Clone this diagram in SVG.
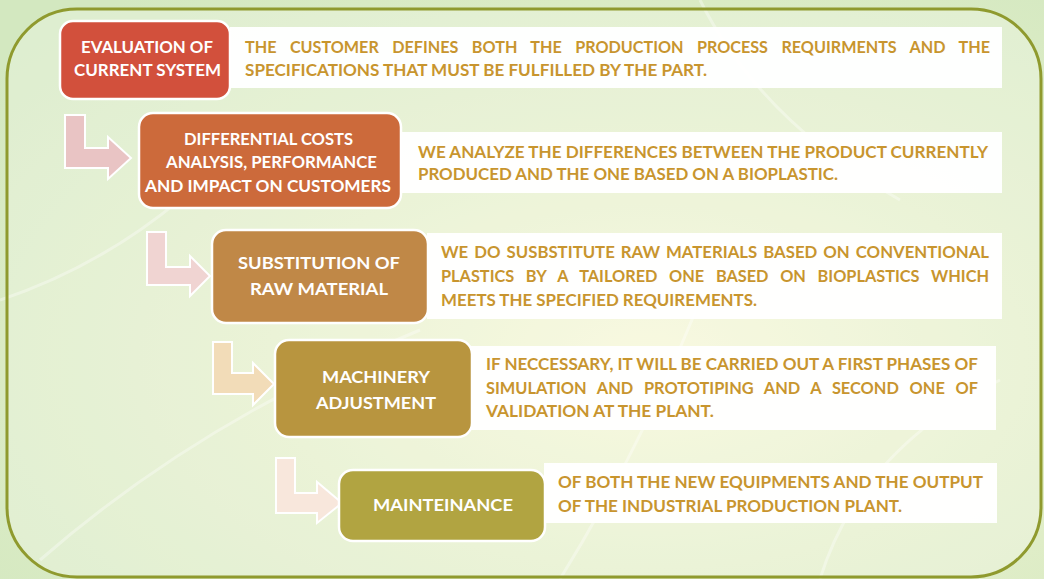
<svg xmlns="http://www.w3.org/2000/svg" width="1044" height="579" viewBox="0 0 1044 579">
<defs>
<radialGradient id="bg" cx="0.62" cy="0.62" r="0.8">
<stop offset="0" stop-color="#f6f7d6"/>
<stop offset="0.45" stop-color="#e4efca"/>
<stop offset="1" stop-color="#d3e8c0"/>
</radialGradient>
<style>
.box{stroke:#ffffff;stroke-width:2.5}
.desc-bg{fill:#ffffff;opacity:0.96}
.arrow{stroke:#ffffff;stroke-width:2;stroke-linejoin:miter}
text{font-family:Lato,"Open Sans","Liberation Sans",sans-serif;font-weight:700;font-size:17px}
.lbl{fill:#ffffff;text-anchor:middle}
.desc{fill:#c8952e}
</style>
</defs>
<rect x="0" y="0" width="1044" height="579" fill="url(#bg)"/>
<g opacity="0.35" fill="none" stroke="#ffffff" stroke-width="3">
<path d="M0 300 Q150 250 260 120"/>
<path d="M40 560 Q200 420 420 330"/>
<path d="M560 579 Q640 450 700 300"/>
<path d="M820 579 Q860 450 1000 380"/>
<path d="M700 0 Q760 120 900 200"/>
</g>
<rect x="7" y="9" width="1034" height="568" rx="70" ry="70" fill="#ffffff" fill-opacity="0.25" stroke="#8f9a2e" stroke-width="3"/>

<g id="connectors">
<polygon class="arrow" fill="#e9c4c4" points="65,115 85,115 85,148 108,148 108,137 131,158 108,179 108,168 65,168"/>
<polygon class="arrow" fill="#f0d4d2" points="147,232 166,232 166,267 190,267 190,256 210,276 190,296 190,285 147,285"/>
<polygon class="arrow" fill="#f2dcb8" points="213,342 232,342 232,373 253,373 253,363 274,384 253,405 253,394 213,394"/>
<polygon class="arrow" fill="#f8e7dc" points="276,458 295,458 295,493 317,493 317,482 342,503 317,523 317,513 276,513"/>
</g>

<g id="node1">
<rect class="desc-bg" x="230" y="27" width="772" height="61"/>
<rect class="box" x="60" y="21" width="170" height="78" rx="13" fill="#d2503c"/>
<text class="lbl" x="147" y="53" textLength="132" lengthAdjust="spacingAndGlyphs">EVALUATION OF</text>
<text class="lbl" x="147.5" y="76" textLength="147" lengthAdjust="spacingAndGlyphs">CURRENT SYSTEM</text>
<text class="desc" x="245" y="53" word-spacing="10" textLength="745" lengthAdjust="spacingAndGlyphs">THE CUSTOMER DEFINES BOTH THE PRODUCTION PROCESS REQUIRMENTS AND THE</text>
<text class="desc" x="245" y="76" textLength="462" lengthAdjust="spacingAndGlyphs">SPECIFICATIONS THAT MUST BE FULFILLED BY THE PART.</text>
</g>

<g id="node2">
<rect class="desc-bg" x="400" y="132" width="602" height="61"/>
<rect class="box" x="139" y="113" width="262" height="95" rx="14" fill="#cc6a3b"/>
<text class="lbl" x="268.5" y="145" textLength="169" lengthAdjust="spacingAndGlyphs">DIFFERENTIAL COSTS</text>
<text class="lbl" x="271.5" y="168" textLength="211" lengthAdjust="spacingAndGlyphs">ANALYSIS, PERFORMANCE</text>
<text class="lbl" x="268" y="192" textLength="246" lengthAdjust="spacingAndGlyphs">AND IMPACT ON CUSTOMERS</text>
<text class="desc" x="418" y="158" textLength="570" lengthAdjust="spacingAndGlyphs">WE ANALYZE THE DIFFERENCES BETWEEN THE PRODUCT CURRENTLY</text>
<text class="desc" x="418" y="180" textLength="420" lengthAdjust="spacingAndGlyphs">PRODUCED AND THE ONE BASED ON A BIOPLASTIC.</text>
</g>

<g id="node3">
<rect class="desc-bg" x="427" y="233" width="575" height="86"/>
<rect class="box" x="212" y="230" width="216" height="93" rx="14" fill="#c08847"/>
<text class="lbl" x="319" y="269" textLength="162" lengthAdjust="spacingAndGlyphs">SUBSTITUTION OF</text>
<text class="lbl" x="319" y="295" textLength="138" lengthAdjust="spacingAndGlyphs">RAW MATERIAL</text>
<text class="desc" x="441" y="258" word-spacing="2" textLength="548" lengthAdjust="spacingAndGlyphs">WE DO SUSBSTITUTE RAW MATERIALS BASED ON CONVENTIONAL</text>
<text class="desc" x="441" y="282" word-spacing="8" textLength="548" lengthAdjust="spacingAndGlyphs">PLASTICS BY A TAILORED ONE BASED ON BIOPLASTICS WHICH</text>
<text class="desc" x="441" y="306" textLength="316" lengthAdjust="spacingAndGlyphs">MEETS THE SPECIFIED REQUIREMENTS.</text>
</g>

<g id="node4">
<rect class="desc-bg" x="471" y="346" width="525" height="84"/>
<rect class="box" x="275" y="340" width="197" height="97" rx="14" fill="#b8953f"/>
<text class="lbl" x="376" y="383" textLength="108" lengthAdjust="spacingAndGlyphs">MACHINERY</text>
<text class="lbl" x="376" y="409" textLength="120" lengthAdjust="spacingAndGlyphs">ADJUSTMENT</text>
<text class="desc" x="486" y="370" textLength="492" lengthAdjust="spacingAndGlyphs">IF NECCESSARY, IT WILL BE CARRIED OUT A FIRST PHASES OF</text>
<text class="desc" x="486" y="394" word-spacing="7" textLength="492" lengthAdjust="spacingAndGlyphs">SIMULATION AND PROTOTIPING AND A SECOND ONE OF</text>
<text class="desc" x="486" y="417" textLength="228" lengthAdjust="spacingAndGlyphs">VALIDATION AT THE PLANT.</text>
</g>

<g id="node5">
<rect class="desc-bg" x="544" y="463" width="453" height="60"/>
<rect class="box" x="339" y="470" width="206" height="71" rx="14" fill="#b1a441"/>
<text class="lbl" x="443" y="511" textLength="140" lengthAdjust="spacingAndGlyphs">MAINTEINANCE</text>
<text class="desc" x="558" y="488" textLength="425" lengthAdjust="spacingAndGlyphs">OF BOTH THE NEW EQUIPMENTS AND THE OUTPUT</text>
<text class="desc" x="558" y="512" textLength="344" lengthAdjust="spacingAndGlyphs">OF THE INDUSTRIAL PRODUCTION PLANT.</text>
</g>
</svg>
